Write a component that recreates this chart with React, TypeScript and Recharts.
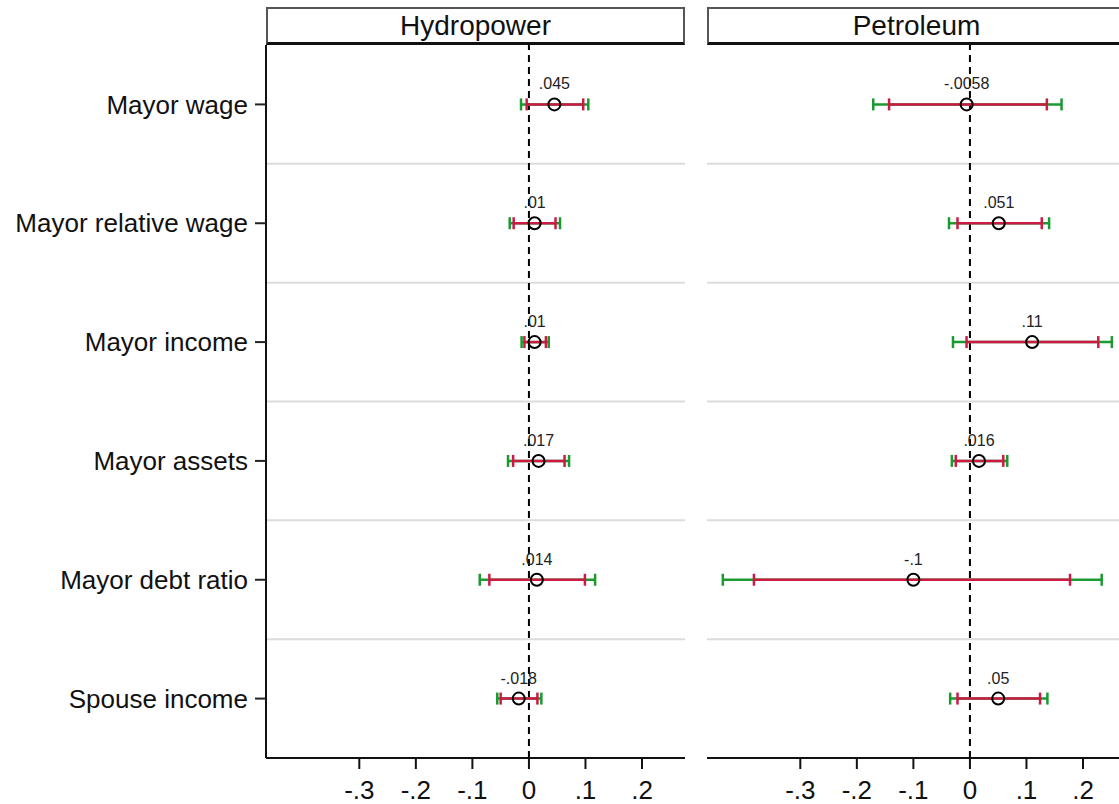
import { ScatterChart, Scatter, XAxis, YAxis, ErrorBar, ReferenceLine } from 'recharts'

const rows = ['Mayor wage', 'Mayor relative wage', 'Mayor income', 'Mayor assets', 'Mayor debt ratio', 'Spouse income']

const hydroCoef = [0.045, 0.01, 0.01, 0.017, 0.014, -0.018]
const hydroLo90 = [-0.004, -0.027, -0.008, -0.028, -0.07, -0.05]
const hydroHi90 = [0.096, 0.047, 0.03, 0.063, 0.099, 0.015]
const hydroLo95 = [-0.014, -0.034, -0.013, -0.037, -0.087, -0.056]
const hydroHi95 = [0.105, 0.055, 0.035, 0.071, 0.117, 0.022]

const petroCoef = [-0.0058, 0.051, 0.11, 0.016, -0.1, 0.05]
const petroLo90 = [-0.143, -0.022, -0.006, -0.025, -0.382, -0.022]
const petroHi90 = [0.136, 0.127, 0.227, 0.059, 0.177, 0.124]
const petroLo95 = [-0.171, -0.037, -0.03, -0.032, -0.437, -0.035]
const petroHi95 = [0.162, 0.14, 0.251, 0.066, 0.233, 0.137]

const xTicks = [-0.3, -0.2, -0.1, 0, 0.1, 0.2]
const xDomain = [-0.465, 0.276]

const RED = '#cc1a44'
const GREEN = '#1a9a31'
const FRAME = '#555'
const FONT = '"Liberation Sans", Arial, sans-serif'

// stata style: drop the leading zero
const fmt = (v: number) => String(v).replace('0.', '.')

const Marker = (p: any) => (
  <g>
    <circle cx={p.cx} cy={p.cy} r={6} fill="none" stroke="#000" strokeWidth={2} />
    <text x={p.cx} y={p.cy - 15} textAnchor="middle" fontSize={16} fill="#222" fontFamily={FONT}>
      {fmt(p.payload.coef)}
    </text>
  </g>
)

const Nothing = () => <g />

function Panel({ title, coef, lo90, hi90, lo95, hi95, showLabels, left }: any) {
  const data = rows.map((_, i) => ({
    row: i + 1,
    coef: coef[i],
    ci90: [coef[i] - lo90[i], hi90[i] - coef[i]],
    ci95: [coef[i] - lo95[i], hi95[i] - coef[i]],
  }))
  const yW = showLabels ? 266 : 0
  const plotW = 419
  const rMargin = 8

  return (
    <div style={{ position: 'absolute', left, top: 0 }}>
      <div
        style={{
          position: 'absolute',
          left: yW,
          top: 7,
          width: plotW,
          height: 38,
          boxSizing: 'border-box',
          borderTop: `2px solid ${FRAME}`,
          borderLeft: `2px solid ${FRAME}`,
          borderRight: `2px solid ${FRAME}`,
          borderBottom: '3px solid #111',
          textAlign: 'center',
          fontSize: 28,
          lineHeight: '33px',
          fontFamily: FONT,
          color: '#111',
        }}
      >
        {title}
      </div>
      <ScatterChart width={yW + plotW + rMargin} height={804} margin={{ top: 45, right: rMargin, bottom: 0, left: 0 }}>
        <XAxis
          type="number"
          dataKey="coef"
          domain={xDomain}
          allowDataOverflow
          ticks={xTicks}
          interval={0}
          tickFormatter={fmt}
          height={46}
          tickSize={11}
          tickMargin={12}
          tick={{ fontSize: 26, fill: '#111', fontFamily: FONT }}
          axisLine={{ stroke: '#111', strokeWidth: 2 }}
          tickLine={{ stroke: '#111', strokeWidth: 2 }}
        />
        <YAxis
          type="number"
          dataKey="row"
          domain={[0.5, 6.5]}
          reversed
          allowDataOverflow
          ticks={rows.map((_, i) => i + 1)}
          interval={0}
          width={yW}
          tick={showLabels ? { fontSize: 26, fill: '#111', fontFamily: FONT } : false}
          tickFormatter={(v: number) => rows[v - 1]}
          tickSize={showLabels ? 11 : 0}
          tickMargin={7}
          tickLine={showLabels ? { stroke: '#222', strokeWidth: 2 } : false}
          axisLine={{ stroke: showLabels ? '#111' : FRAME, strokeWidth: 2 }}
        />
        <YAxis
          yAxisId="frame"
          orientation="right"
          type="number"
          domain={[0.5, 6.5]}
          width={0}
          tick={false}
          tickLine={false}
          axisLine={{ stroke: FRAME, strokeWidth: 2 }}
        />
        {rows.slice(1).map((_, i) => (
          <ReferenceLine key={i} y={i + 1.5} stroke="#dcdcdc" strokeWidth={2} />
        ))}
        <ReferenceLine x={0} stroke="#000" strokeWidth={2} strokeDasharray="7 5" />
        <Scatter data={data} shape={Nothing} isAnimationActive={false}>
          <ErrorBar dataKey="ci95" direction="x" width={6} stroke={GREEN} strokeWidth={2.5} isAnimationActive={false} />
        </Scatter>
        <Scatter data={data} shape={Nothing} isAnimationActive={false}>
          <ErrorBar dataKey="ci90" direction="x" width={6} stroke={RED} strokeWidth={2.5} isAnimationActive={false} />
        </Scatter>
        <Scatter data={data} shape={Marker} isAnimationActive={false} />
      </ScatterChart>
    </div>
  )
}

export default function App() {
  return (
    <div style={{ position: 'absolute', left: 0, top: 0, width: 1119, height: 804, overflow: 'hidden', background: '#fff' }}>
      <Panel
        title="Hydropower"
        coef={hydroCoef}
        lo90={hydroLo90}
        hi90={hydroHi90}
        lo95={hydroLo95}
        hi95={hydroHi95}
        showLabels
        left={0}
      />
      <Panel
        title="Petroleum"
        coef={petroCoef}
        lo90={petroLo90}
        hi90={petroHi90}
        lo95={petroLo95}
        hi95={petroHi95}
        showLabels={false}
        left={707}
      />
    </div>
  )
}
